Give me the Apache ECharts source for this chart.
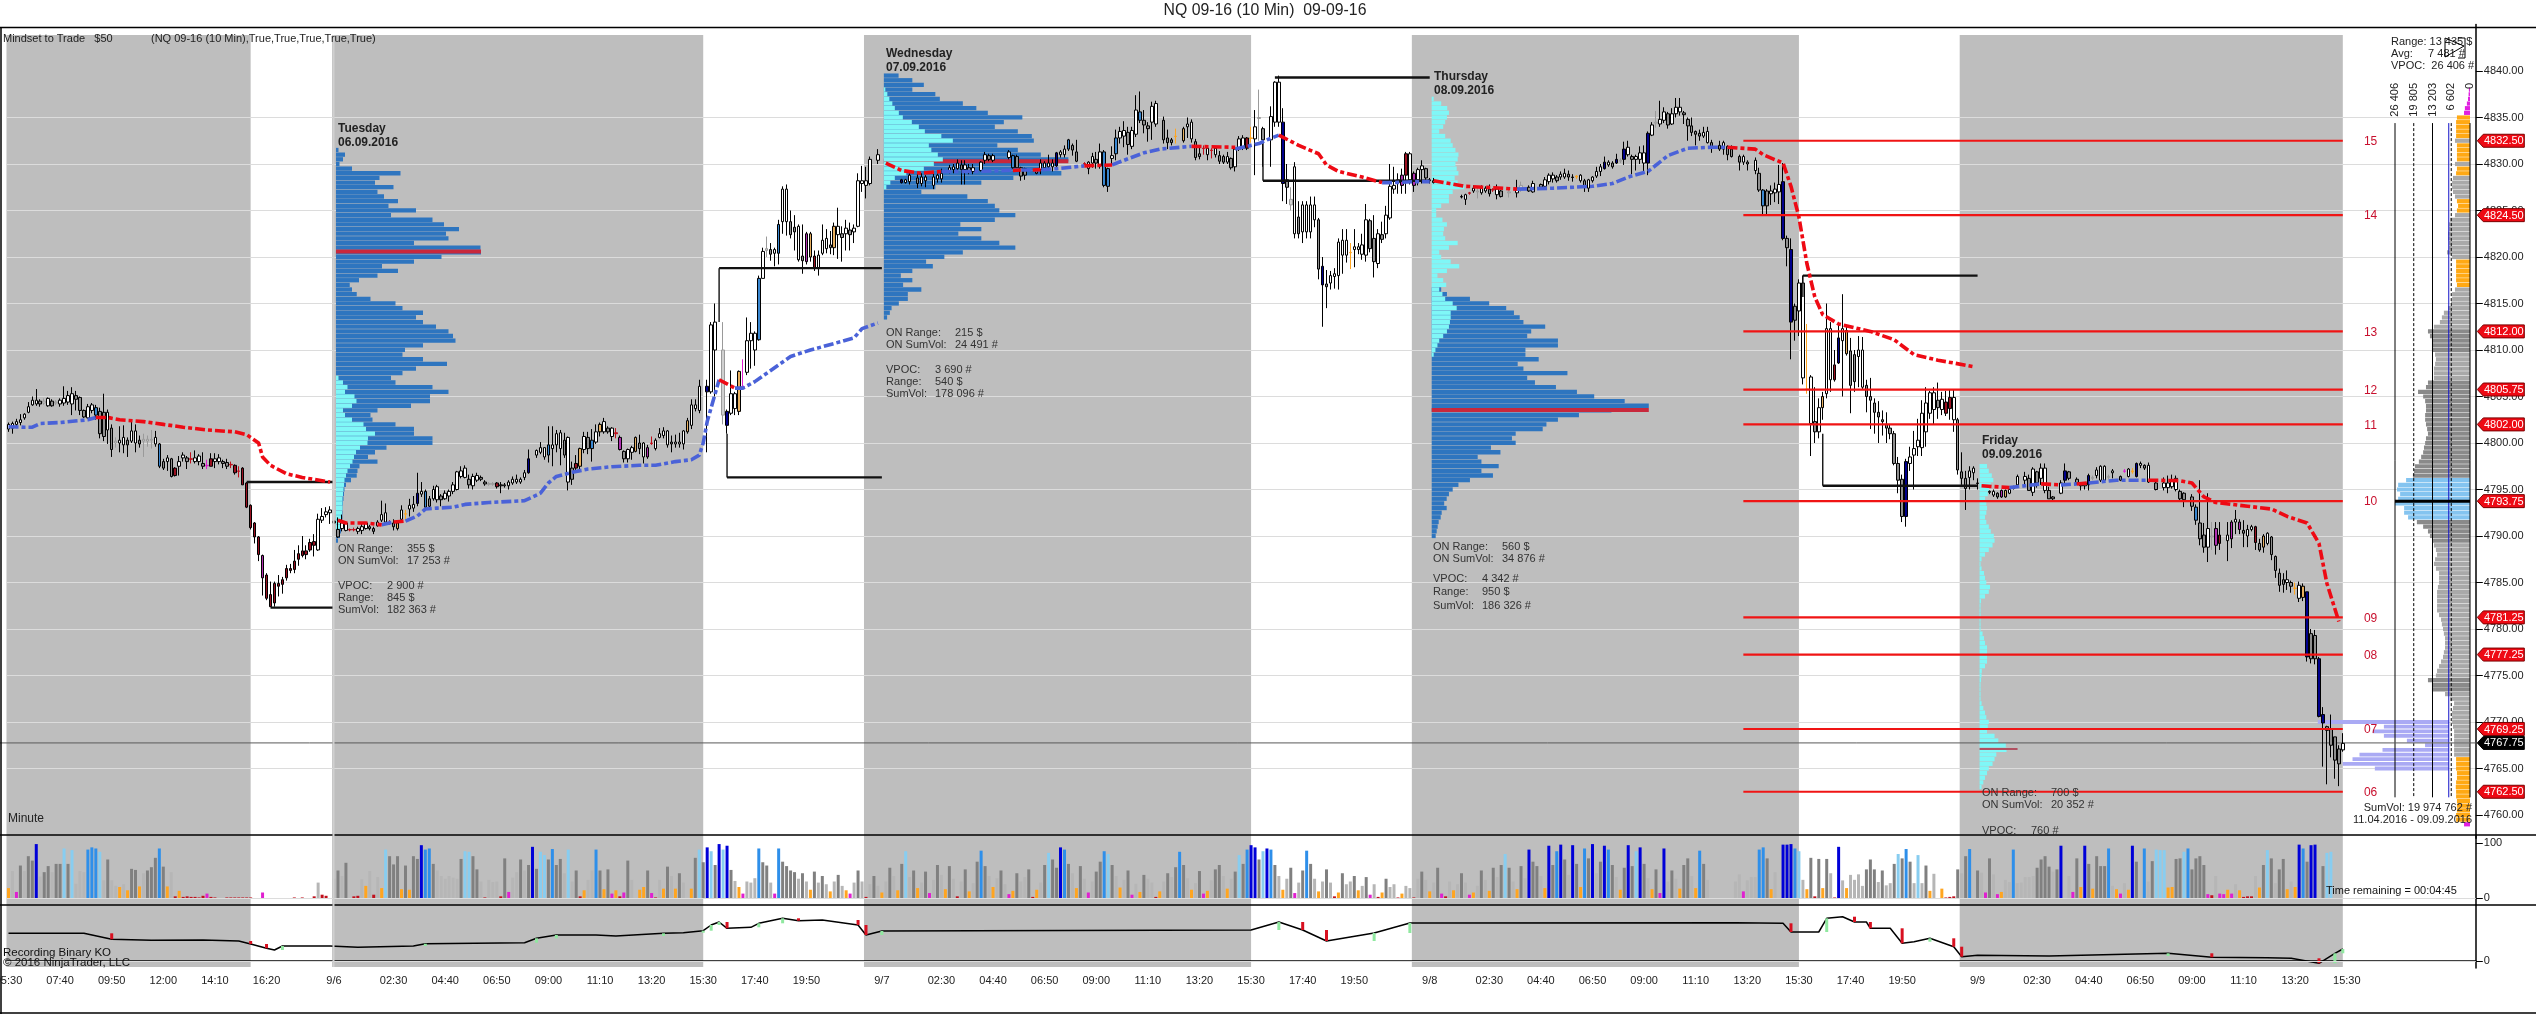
<!DOCTYPE html>
<html><head><meta charset="utf-8"><style>html,body{margin:0;padding:0;background:#fff}#c{width:2536px;height:1014px}</style>
<script src="https://cdn.jsdelivr.net/npm/echarts@6/dist/echarts.min.js"></script></head><body><div id="c"></div>
<script>
const priceBase=4700;
// candles: [bodyLow, bodyHigh, high, low, class?] relative to priceBase; null = no visible bar
const barsA=[[101.5,102,102.2,101.2],[101.6,102.1,102.3,101],[102,102.3,102.6,101.6],[102.2,102.5,103.1,101.9],[102.7,103.1,103.2,102.5],[103.3,103.9,104.4,103.2],[104.1,104.6,105,104],[104.2,104.6,105.8,104],[104.2,104.5,104.7,103.9],[104.3,104.5,104.8,104.1,'l'],[104,104.8,104.9,103.9],[104,104.5,104.7,103.9],[104.3,104.4,104.6,104.1,'l'],[104.2,104.6,104.8,103.9],[104.3,104.8,106.1,104],[104.4,105.1,105.6,104.1],[104.2,105.3,106,103],[104.7,105.1,105.6,103.5],[103.5,104.9,105,103],[102.8,103.5,103.6,102.7],[102.7,103.9,104.2,102.6],[103.5,104.1,104.3,103.2],[103,103.8,104.1,102.5,'b'],[101,103.4,103.8,100.5],[100.7,103.3,105.3,100.2],[101.4,103.3,103.6,99.9],[99.3,101.6,102,98.5],[100,100.2,100.6,99.5,'l'],[100,100.3,101.8,99],[99.8,100.6,101.9,98.9],[99.8,100.3,100.6,98.5],[100.2,101.3,102.4,100],[100,101.3,102,99],[99.9,100.3,100.8,99.5],[100.2,100.4,101,98.5,'l'],[100.2,100.4,100.8,99.6,'l'],[100.3,100.4,101.4,99.4,'l'],[99.9,100.6,101.3,99.6],[97.5,99.9,100,97.3,'b'],[97.3,98,98.3,97.1],[98,98.4,98.7,97],[96.4,98.3,98.4,96.3],[96.5,97.3,97.4,96.4,'r'],[97.5,98,98.6,96.5],[98.4,98.7,99,98],[98,98.4,98.6,97.2],[98.25,98.3,99,97.8,'r'],[98,98.4,99.2,97.8],[98,98.6,98.8,97.6],[97.5,97.8,99,97.2],[97.55,97.6,98.2,97.2,'m'],[97.5,98.3,98.9,97.5,'r'],[98,98.3,98.9,97.3],[98,98.4,98.8,97.7],[97.8,98,98.2,97.3],[97.5,97.9,98.3,97.2],[97.65,97.7,98,97.3,'r'],[96.8,97.6,97.7,96.6,'r'],[96.95,97,97.5,96.3,'r'],[95.5,97.3,97.4,95.5,'r'],[93.1,95.7,95.8,93,'r'],[90.9,93.3,93.4,90.7,'r'],[89.9,91.4,91.5,89.2,'r'],[88,89.9,90,87.3,'r'],[85.5,87.9,88,83.6,'m'],[83.3,85.8,86,83.1,'r'],[82.4,83.7,85.1,82.4,'r'],[82.8,84.9,85.1,82.4,'r'],[84.6,84.9,85.8,83.5,'r'],[84.8,85.3,85.6,83.8,'r'],[85.5,86.5,86.9,85.2,'r'],[86.3,86.5,87,86,'r'],[86.4,87.3,88.5,86,'r'],[87.5,88.1,89,86.8,'r'],[87.9,88.4,90,87.7,'r'],[88,88.4,89,87.5,'r'],[88.5,89.3,89.7,88.3,'r'],[89,89.4,90.2,87.8,'r'],[88.5,91.8,92.4,88.4],[91.7,92.1,93,91.4],[92.3,92.6,93.1,92],[92.5,92.8,93.2,91.3]];
const barsB=[[91.4,91.6,93.5,89.5],[89.9,90.7,92,89.8],[90.8,91.4,92.3,90.5],[90.6,91.4,91.5,90.5],[90.65,90.7,90.8,90.5,'r'],[90.65,90.7,90.9,90.5,'r'],[90.5,90.8,91,90.2],[90.6,91,91.4,90.2],[90.8,91.4,91.5,90.7],[90.8,91,91.2,90.6],[90.5,90.8,91,90.2],[91.1,91.5,91.7,91],[91.7,92.3,93.8,91.5],[91.5,92.5,93.5,91.3],[91.45,91.5,91.7,91.2,'r'],[91,91.4,91.8,90.6],[90.8,91.4,91.5,90.6,'o'],[91.8,92.8,93.3,91.6],[92.35,92.4,92.8,91.8,'o'],[92.9,93.3,94,92.1],[93,93.4,94.3,92.6],[93.5,94.6,96.8,93.2,'n'],[94.5,94.8,95.8,94.2],[93.1,94.8,95,92.9,'b'],[93.2,94,94.3,92.8],[94,95,95.4,93.8],[93.9,95.3,95.5,93.6],[93.9,94.3,94.5,93.2],[94,94.6,94.9,93.9],[94.3,94.8,95,93.7],[94.8,95.5,95.8,94.5],[95,96.9,97,94.9],[96.4,97,97.5,96.2],[96.3,97.3,97.6,96.2],[95.5,96.1,96.6,95.1],[95.4,96.4,96.7,95],[96,96.5,96.8,95.8],[96.1,96.3,96.5,95.9],[95.6,95.8,96,95.4],[95.55,95.65,95.8,95.4,'l'],[95.55,95.65,95.8,95.4,'l'],[95.3,95.7,95.8,95.1,'r'],[95.4,95.5,95.8,94.6],[95.4,95.5,95.7,95.2],[95.4,95.8,96,95],[95.7,96.1,96.4,95.5],[95.8,96.1,96.6,95.6],[95.8,96.1,96.3,95.6],[96.3,96.8,97.1,96],[96.8,98.3,99.3,96.7,'n'],null,[98.7,99.2,99.3,98.4],[99,99.5,100.1,98.8],[98.5,99.5,99.5,98.2],[98.7,99.8,101.8,97.9,'b'],[99.4,99.8,101.8,97.5],[99.8,101,101.4,99],[99.4,101.1,101.4,97.6],[98.7,100.3,101.1,98.4],[95.8,100.6,100.7,94.9],[96.1,97.3,98,95.5],[97.3,97.8,98.7,97,'r'],[97.5,99.4,99.5,97.2,'o'],[99.3,100.7,101.2,98.9],[99.4,100.6,101.2,98.8],[99.4,100.3,101.5,98,'b'],[100.1,101.2,102,99.9],[101.2,102,102.2,100.7,'o'],[101.2,102.3,102.7,101],[101.2,101.6,101.8,101],[100.7,101.6,101.7,100.2],[101,101.1,101.6,100.5,'r'],[99.3,100.6,100.8,99.2,'m'],[98.3,99.1,99.2,97.9],[98.3,99.3,99.4,97.9],[99,99.5,99.7,98.2],[99.1,100.6,100.7,99,'o'],[99.4,100,100.9,98.8],[98.5,100,100.1,97.8],[98.5,99.5,99.8,98.3,'m'],[99.95,100,100.7,99.8,'r'],[99.4,100.3,100.5,99.2],[100.6,101,101.6,100.5],[100.8,101.3,101.7,100.5],[99.8,101.3,101.4,99.5],[99.9,100.1,100.8,99],[99.9,100.1,100.9,99.5],[99.9,100.1,101.1,99.5],[99.9,101.3,101.4,99.3],[101.2,102.4,102.7,101,'o'],[101.9,104.1,104.7,101.5],[103.7,104.1,104.7,103.4],[103.5,106.1,106.8,103.2]];
const barsC=[[105.5,106.1,106.8,99,'n'],[105.5,112.7,113,105.3],[110,113,115,105]];
const barsD=[[103,110,113,102,'l'],[101.9,103.4,103.6,101,'n'],[103.2,105.3,107.8,103],[103.7,105.3,105.5,103],[103.4,107.7,107.8,103,'o'],[106,106.05,109,106,'m'],[107.6,111,113.5,107.3],[111,111.8,113,108],[110,111.8,112,108.3],[111.1,117.7,118,111,'b'],[117.7,120.6,121,117.7],[120.7,120.9,122.2,120,'l'],[120.3,120.8,121.5,119.6],[120.4,120.8,121,119],[120.4,123.5,124,119.2,'b'],[123.8,127.3,127.6,122.5],[123.8,127.3,127.8,122.3],[122.4,123.8,125,122],[122.7,123.2,124.5,120.7],[119.7,123.3,123.5,119.5],[119.6,120.1,123.5,118.2],[119.5,122.5,122.7,119.2,'m'],[120,122.5,122.7,119.5,'o'],[118.8,120.1,120.7,118.5,'r'],[118.8,120.2,120.7,118],[120.4,121.8,123.5,120.2],[120.9,122,123,120.4],[121,121.3,122.8,120.3],[121,123.3,123.7,120.2,'o'],[122.4,123.3,125.3,119.8],[122.1,122.5,123.3,119.5],[122.5,123.1,124,120.7],[122.4,122.9,123.7,120.7],[122.7,123.1,123.5,121.5],[123.3,128.2,129,123.2],[127.9,128.2,129.8,127],[127.7,128.2,129.7,126.3],[127.9,130.5,130.8,127.7],null,[130.4,131,131.6,130]];
const barsE=[[128,128.3,128.4,127.9,'n'],[128,128.3,128.4,127.9],[128.1,128.8,129,127.8],null,[127.9,128.5,129,127.4],[127.9,128.6,129,127.6],[128.2,128.6,128.8,127.5],null,[127.7,128.6,129,127.3],[128.4,128.8,129,128],[128.4,129,129.5,128],null,[129.2,129.6,129.9,129],[129.4,129.7,130,129],[129.5,130.1,130.5,129.2],[129.4,129.9,130.4,127.8],[129.4,129.9,130.4,127.8],[129.2,129.6,130,128.9],[129.2,129.6,130,128.9],null,[129.3,130.2,130.3,129.2],[130.4,131,131.3,130],[130.5,130.9,131.1,130.3],[130.4,130.9,131.1,130.2],null,null,null,[130.7,131.3,131.5,130.5],[129.6,130.9,131,129.5,'b'],[129.6,130.8,131,129.5],[128.7,129.6,129.7,128.2],[128.8,129.5,129.6,128.3],null,null,[129,129.3,129.4,128.9],[129.4,130.1,130.5,128.9],[129.6,130.1,130.3,129.4],[129.7,130.1,131,129.5],[129.7,130.1,130.5,129.2],[129.8,131.2,131.3,129.5,'n'],[131,131.3,131.5,130.7],[131,131.6,132,130.7],[131.6,132.6,132.7,131.4,'b'],[131.5,132,132.2,130.9],[130.3,131.3,132.6,130.2],null,[130,130.05,130.2,129.9,'r'],[129.5,130.2,130.3,128.9],[130.1,130.8,131.2,129.6],[130.1,130.5,131.3,129.5],[129.8,131.3,132.2,129.5],[127.7,131.3,131.5,127.5,'b'],[127.6,129.5,129.6,127,'b'],[130.6,130.9,131.9,130],[131.1,132.8,133.7,130.4,'b'],[132.8,133.5,134,132.2],[133,133.6,134.6,131.8],[132.1,133.4,134,131],[131.9,133.6,134,131.6],[133.2,135.8,137.4,132.9],[134.7,135.6,137.8,134.4,'b'],[134.2,134.7,135.8,133.3],[133.8,134.1,134.5,132.4],[134.5,136.2,136.7,132.6],[134.3,136.5,136.8,134],null,[132.6,134.7,135.1,132.2],[132.3,132.8,133.7,131.6],[132.3,132.6,132.8,132],[132.95,133,133.8,132.2,'o'],null,[132.5,133.8,134,132.3,'o'],[134,134.3,135,132.8],[132.7,134.5,134.8,132.3],[130.7,132.4,132.7,130.4],[130.8,131.1,131.9,130.5],[131.65,131.7,132,131,'r'],[131,131.7,132,130.4],[131.45,131.5,131.7,130.6,'r'],[131,131.7,131.9,130.7],[130.3,130.9,131.4,130],[130.2,130.8,131,130],[130.2,130.8,131.3,130],[129.6,130.6,130.7,129.4],[129.7,131.6,131.8,129.2],[131.6,132.7,133,131.4],[131.7,132.8,133.1,131.5],[131.7,132.8,132.9,131.5,'r'],[132.75,132.8,134,132.3,'o'],[132.7,134,135.8,128.8]];
const barsF=[[134.9,135,138,132.5,'l'],[132.6,133.8,134,129.7],null,[132.6,135.1,136.2,129.7],[134.5,138.8,138.9,134],[134.5,138.8,139.5,134],[127.9,134.5,136,126,'n'],[127.5,128.3,130,125.7],[125.6,126.2,127.5,125,'l'],[122.5,129.7,130.2,122],[122.5,124.3,126,122],[122.7,125.6,126,121.5],[122.7,125.6,126,122],[122.7,125.6,126.5,122],[124,125.6,126.5,123.2],[118.7,124,124.2,117.6],[117,119,120,112.5,'n'],[116.8,117.1,118.6,114.5],[117.2,118,118.5,116.5],[117.9,118.2,118.8,116.6],[118,121.6,122,116.5],[120.2,121.8,123,118.2],[120.2,121.8,123,119.4],[120.45,120.5,121.5,118.7,'o'],[120.8,121.1,123,118.9],[120.8,121.1,121.5,120.3],[120.3,121.3,122.5,119.7],[120.2,124,125.7,119.5],[120.9,123.9,124.1,120.5],[119.5,122,124.5,117.8],[119.3,122.5,123,118.8],[121.9,122.4,123.8,121.5],[122.5,124.5,125.5,122],[124.2,127.6,130,124],[127.3,127.7,129.7,126.8],[128,128.3,129,126.8],[127.7,128.8,129.5,126.8,'m'],[128.8,131.1,131.3,126.8,'r'],[128.3,131.1,131.3,127.8],[127.7,129,129.2,127,'m'],[128.3,129.4,129.6,127.7],[129.4,129.8,130.4,127.9],[128.5,129.5,129.6,128],[128.2,128.3,128.5,127.9]];
const barsG=[[126.45,126.5,126.7,126.3],[126.2,126.7,126.8,125.6],[126.85,126.9,127,126.7,'r'],[127.1,127.4,127.7,126.9],[127,127.1,127.6,126.3,'l'],[126.9,127.4,127.7,126.7],[127.1,127.4,127.6,126.9],[126.8,127.3,127.8,126.5],[127.2,127.25,127.4,127,'r'],[126.7,127.3,127.8,126.2],[126.5,127.1,127.2,126.4],null,[126.9,127,127.3,126.4,'l'],null,[126.9,127.4,128.3,126.4],[127.3,127.7,128.1,127,'l'],null,[127.1,127.5,127.7,127],[127,127.9,128.2,126.9],null,[127.5,127.8,127.9,127.3],[127.6,128.3,128.6,127.5],[128.1,128.8,129,127.8],[128.4,128.8,129.1,128],[128.2,128.6,128.8,128],[128.6,128.9,129.2,128.3],[128.6,129,129.5,128.4],[128.6,128.9,129.3,128.2],[128.55,128.6,128.9,128.1],[128.6,128.7,128.8,128.4,'o'],[128.2,128.8,128.9,128],[127.6,128.2,128.4,127],[127.4,128.3,128.4,127],[128.2,128.6,128.7,128],[128.7,129.2,129.7,128.5],[129.2,129.7,130,128.7],[129.5,130.2,130.8,129.4,'n'],[129.9,130.2,130.4,129.7],[129.7,130.1,130.3,129.5],[130.1,130.5,131.1,130,'n'],[130.3,130.4,130.6,130.1,'l'],[130.5,131.6,132.4,129.9,'n'],[131,131.8,132.5,130.8],[130.5,130.8,131,128.9],[130.5,130.8,131,129.3],[130.5,131.2,131.9,130],[130.1,131.2,132,129.1],[130.1,133.3,133.5,128.8,'n'],[133.1,134.2,134.5,133],[134.4,134.5,135.7,133.9,'l'],[134.3,134.8,136.8,134],[134.7,135.6,136.1,134.4],[134.2,135.4,135.6,133.8],[134.3,135.4,136,134.2],[135.4,136.1,137.1,135],[135.6,136.1,137.1,135.2],[135.3,135.5,135.7,134.3],[134.1,134.8,135,132.5],[133.4,134.1,135,133],[133.2,133.5,133.6,132],[133,133.3,133.7,132.5],[133,133.4,134,132.8],[132.3,133.5,134,132.2],[131.7,132.3,132.6,131.2],null,[131.6,132,132.5,131.4],[131.6,132.3,132.5,131],[131,131.9,132,130.4],[130.8,131.6,132,130.7],null,[130.2,130.8,131,129.3],[130.2,130.8,131,129.9],[130,130.2,130.4,129.3],null,[129.3,130.4,130.7,128.9],[127.2,129,129.6,127],[125.5,127.2,127.3,124.6,'b'],[125.5,127.1,127.3,124.6],[126.8,127.1,127.7,125.6],[126.9,127.3,128,125.9],[127,127.8,129.9,125.7],[122,128.1,130.1,121.8,'n'],[121,122,122.3,119],[113,120.8,122,109,'n'],[113.2,114.7,115,111],[114.2,117.2,117.6,111.5],[107,117.2,118,106.3],[105.75,105.8,112.8,105.3,'o'],[102.1,107.1,107.3,98.6],[101.2,102.3,106,100],[101.2,103.8,104.8,100.5],[103.8,105,105.5,102.5,'o'],[105.3,112.3,115,104.8],[106.8,112.3,113,105.5],[106.8,108.4,110,106.6,'r'],[108.6,111.3,113,108.5,'n'],[111,112.3,116,105],[109.6,112.1,112.5,109.4,'o'],[106.2,109.9,111.3,103.2],[106.6,109.5,110,105.5],[109.3,110,111.5,106],[106,110,111.4,105.7],[105,106.2,106.8,103.3],[104.6,105,107,101.5],[103.3,104.3,104.8,101],[102.8,103.3,104.5,100],[102.3,102.5,103.5,100.8],[101.6,102,103.3,100],[101,101.6,102,100.4],[97.8,101,101.3,97.6],[96,97.8,98.5,94.6],[92.1,96.1,96.6,91.5],[92.1,98,98.3,91,'n'],[97.8,98.5,99.6,97],[98.7,99.4,101.3,95],[99.6,100.3,102.6,98.6],[99.5,103.2,104.6,98.6],[101.2,104.3,106,99.6],[103.2,105.4,105.6,102.6],[103.6,105.4,106,102],[103.8,104.6,106.5,102.6],[103.6,104.7,105.5,103],[103.2,104.4,105.6,102.9,'r'],[103.7,104.9,105.7,102.5,'r'],[102.5,104.9,105.8,101.2],[97.1,102.5,102.7,96.6],[96.2,96.9,99,95.5],[95.1,96.2,97,92.8],[96.3,97,97.5,95],[96.8,97.3,97.5,96],[95.65,95.7,96.2,95]];
const barsH=[[94.7,94.8,94.9,94.5],[94.4,94.8,95,94.2],[94.2,94.6,94.7,94],[94.2,94.9,95,94.1,'m'],[94.2,94.9,95,94.1,'o'],[94.6,95,95.1,94.5],[95.1,95.2,95.4,95],[95.5,96.4,96.6,95.4],null,[96,96.4,96.9,95.3],[94.9,96.2,96.6,94.9],[94.7,97.2,97.4,94.3],[95.7,96.9,97,95.2],[96.2,97.3,97.8,95.5],[94.9,97.3,97.8,94.6],[94,94.9,95.3,94],[94,94.2,94.3,93.8],null,[94.6,95.7,96,94.5],[96,97,97.8,95.6,'n'],[96.2,96.9,97,96],null,[95.7,96.1,96.3,95.5],[95.4,95.7,95.8,94.9],[95.4,95.7,95.8,95],[95.5,96.5,96.7,94.9,'n'],[96.2,96.3,96.5,96,'l'],[96.5,97.1,97.4,96.2],[96,97.5,97.6,95.8],[96,97.5,97.6,95.9],[96.3,96.4,96.6,96.1,'l'],[96.8,97,97.2,96.2],null,[96,96.4,96.5,95.9],[96.95,97,97.2,96.8,'m'],[96.4,97.2,97.3,96.3],[96.9,97,97.3,96.7,'o'],[96.4,97.8,97.9,96.3,'n'],[97.6,97.8,98,97.3],[97.3,97.6,97.7,97.1],[95.8,97.6,97.9,95.7],null,[95,95.7,96,94.9],null,[95.2,95.7,96.3,94.9],[95.2,95.7,96.5,94.6],[95.3,96,96.6,95.1],[95,96.2,96.5,94.8],[94,94.8,95,93.8],[93.9,94.6,94.7,93.1],null,[93.2,94.2,94.5,92.7],[91.7,93.1,93.4,91.2,'b'],[89.7,91.4,96,89],[88.8,90.1,91.4,88.2],[88.8,90.8,94.6,87.2],[89.9,90,91.5,88.5,'l'],[89,90.8,91.5,88,'m'],[89.2,90.1,91.5,88.5,'r'],null,[89.5,90.1,91.5,87.3],[89.7,91.5,91.7,88.7,'m'],[91.5,91.8,92.8,90.2],[90.7,91.5,91.8,90.2,'m'],[90.3,90.6,91.7,88.8],[90,90.7,91.2,88.8],[90.7,91,91.2,90.5],[89.3,91,91.1,88.5,'r'],[88.5,89.2,89.7,88.3],[88.8,90,90.2,88.2,'o'],[89.2,90.3,90.4,89],[88,89.9,90,87.4],[86.3,87.8,87.9,85.5],[84.7,86,86.5,84],[84.8,85.3,86,83.9],[85,85.3,86.3,84.2],[84.6,85,85.2,83.9],[84.35,84.4,85,83.7,'o'],[83.3,84.7,85.1,82.9],[83.4,84.6,84.9,83,'o'],[77,84,84,76.5,'n'],[76.8,79.5,80,76.3],[76.8,79.3,79.9,76.2],[70.6,76.8,77,70.5,'n'],[69.9,70.8,71.6,65.2,'n'],[69.1,69.5,69.6,63.3],[67.5,69.3,70.8,66.2],[65.9,68.4,68.4,63.9],[65.5,67.1,67.5,63.1],[67,67.7,68.8,66.8]];
// volume rank pane: class letter + value
const volumeA="o18 l49 m11 g59 l49 g76 g68 n98 l39 g47 g58 l47 g62 g62 c90 g62 c87 l26 l49 l47 b88 b92 b90 c84 l32 g70 l32 l22 o20 l25 o14 g53 g51 o21 l45 g50 g56 g73 b90 g57 o21 l47 r3 o13 r2 r3 r2 r2 r1 r4 m8 r2 r1 r0 r0 r1 r1 r1 r1 r1 r1 r1 r0 r0 m10 r0 r0 r0 r0 r0 r0 r0 r1 r0 r1 r0 r0 r3 l28 r6 r4 r0 l35 g50 l40 g64 r0 r3 r4 l34 o22 l49 r6 l38 o18 c88 g76 g61 g76 o16 g59 o15 g76 g71 n96 b88 b90 g62 l50 l40 l35 l40 l37 l35 g71 c85 c84 g76 g52 l30 r1 l33 l29 l30 r3 g72 m11 l37 l47 g70 l50 g60 n93 g53 c84 c78 g70 b89 g60 g71 l45 c88 l30 g50 r3 o14 l33 l50 b88 g50 o16 g52 m8 o14 r3 m10 g68 l33 r0 o15 o20 g50 m9 r1 l33 o17 g57 l40 o17 g45 l28 r0 o17 g73 c88 g65 n92 c85 g60 n98 c88 n95 g51 l31 o20 m8 l30 l28 l36 b90 g65 g59 l28 m8 b90 g66 g58 g50 g47".split(" ");
const volumeB="l35 g45 l30 o15 g48 l28 g40 l25 o12 l30 g42 l22 o14 m8 l28 g50 l30 r2 l25 g40 l22 o10 l30 g55 l40 o14 g62 c85 l38 g50 o18 l28 g48 m9 l33 g60 l42 o16 g58 l35 r3 l30 g52 o12 l27 g66 b86 g58 l40 o20 l36 g50 l25 m7 o13 g45 l30 l38 g52 r2 o15 l28 g60 c82 g70 g55 n92 b88 g62 l45 o18 g58 l35 m10 l30 g48 g66 b85 c80 g60 l40 o19 l33 g50 m6 l26 o11 g42 l35 l28 r2 o12 l30 g45 l38 g56 b84 g60 l36 o15 l27 g49 m8 o13 l32 g52 g60 l40 o17 l35 g48 c78 g62 b88 n96 n92 g70 c85 n90 b88 g60 l40 o15 l35 g55 m9 l28 g50 b86 g62 l35 o12 l30 g52 l28 r3 o10 g45 l25 l30 g40 o14 l22 g38 m6 l25 r2 o10 g35 l20 l25 r1 o8 l22 l18 r1 l35 g48 l33 o12 l28 g55 m8 r3 l30 o14 l25 g45 l28 m6 o10 l22 g50 l33 o13 g55 l38 g60 c80 g55 l30 o16 g58 l36 n88 g66 g58 l40 o18 n95 g60 b85 n97 g70 l42 n96 g62 o20 b90 g72 n98 l45 g66 n95 b88 g60 l38 o15 g55 n96 g58 c85 n92 g62 l36 o16 g52 m9 n90 l30 g50 l35 o17 g60 g72 l40 o18 b86 g62 l33".split(" ");
const volumeC="l30 l43 m12 l32 l38 l38 b88 b92 g72 o16 l47 r0 n97 n97 n98 b90 c85 l33 o16 g73 r3 g71 o18 g71 l45 r1 n93 l32 o18 l42 l33 l43 l22 g52 g70 g52 l29 g50 l23 l27 g62 c80 g72 b89 g66 l27 c78 l27 g59 o13 l44 r0 o17 r1 r2 r3 g52 l45 g76 b89 r0 g50 l46 m10 g72 l43 m7 o11 l33 l29 b88 l27 l28 l38 l38 l40 g55 g70 g76 g57 l48 g52 n95 r0 l40 m11 g72 o20 n95 g62 o17 g76 g58 g58 b90 l22 o16 m8 l27 o15 n95 g66 r0 b90 l30 g67 c88 c87 c87 o19 o20 g71 g72 c84 b90 g52 g72 g76 g60 m7 r5 l40 m8 m7 o15 m8 l25 o14 r2 r3 r3 l40 o19 g60 c87 g72 l27 g52 g71 o16 l30 o20 n97 b90 g66 n96 n97 r0 g58 c82 c84".split(" ");
// Recording Binary KO pane [bar, value]
const binaryKO=[[0,27.7],[19,27.7],[26,21.7],[36,20.7],[49,21],[58,20],[61,17],[65,12.7],[67,11],[69,15],[81,15],[88,13.7],[102,15],[105,17.3],[130,18.3],[133,22.7],[138,26],[148,26],[153,25],[165,27.7],[170,28.3],[175,30.3],[177,36],[179,39],[181,32.7],[187,33.7],[189,37.7],[195,42.7],[199,40.3],[205,41],[214,36],[216,26],[220,30],[313,31],[320,39],[326,31],[332,20],[344,28],[353,38],[358,38],[435,38.3],[447,37.7],[449,29],[456,29],[458,42.7],[462,44.3],[465,39],[468,39],[469,32.7],[474,32.7],[477,17.7],[480,19.3],[484,22.7],[490,14.3],[492,4.3],[496,5.7],[514,5],[544,7.7],[555,3.7],[569,3.3],[575,2.7],[582,-2.3],[586,7.7],[588,12]];
// session-VWAP style line, red and blue pieces [bar, price-priceBase]
const vwapBlue=[[[0,101.75],[4,101.7],[6,101.7],[8,102.1],[13,102.2],[20,102.5],[22,102.75]],[[94,91.2],[97,91.5]],[[100,91.6],[103,92.15],[105,92.9],[108,93],[112,93.1],[115,93.4],[121,93.6],[130,93.8],[134,94.6],[136,95.7],[138,96.4],[142,96.85],[146,97.2],[152,97.45],[159,97.6],[163,97.6],[168,98],[172,98.2],[174,98.7],[175,100],[176,102.3],[178,105.3],[179,106.8]],[[183,105.9],[185,105.9],[188,106.6],[192,107.8],[197,109.3],[202,110],[208,110.7],[213,111.3],[215,112.3],[219,112.9]],[[235,129.2],[244,129.2],[254,129.35],[259,129.35],[264,129.5],[271,129.8]],[[278,129.9],[281,130.4],[286,131.2],[290,131.6],[298,131.9]],[[309,131.6],[315,132.2],[317,132.6],[320,133.1]],[[346,128],[349,128],[354,128.1],[358,128.1]],[[380,127.3],[389,127.4],[399,127.6],[404,127.9],[408,128.6],[413,129.2],[418,130.9],[423,131.7],[429,131.8],[433,131.8]],[[504,95.2],[508,95.4],[512,95.6]],[[517,95.5],[521,95.6]],[[524,95.7],[531,96],[539,96]]];
const vwapRed=[[[22,102.75],[25,102.75],[28,102.5],[34,102.3],[39,102],[44,101.7],[50,101.4],[57,101.2],[60,100.9],[63,100],[64,98.5],[66,97.6],[70,96.7],[74,96.3],[81,95.8]],[[83,91.7],[85,91.4],[90,91.4],[94,91.2]],[[97,91.5],[100,91.6]],[[179,106.8],[183,105.9]],[[221,130.1],[225,129.3],[230,129],[235,129.2]],[[253,129.3],[255,129.35]],[[258,129.35],[260,129.4]],[[271,129.8],[278,129.9]],[[298,131.9],[309,131.8]],[[320,133.1],[325,132],[330,131.1],[332,129.9],[335,129.2],[341,128.6],[346,128]],[[359,128.2],[363,127.9],[367,127.6],[374,127.45],[380,127.3]],[[433,131.8],[440,131.6],[442,131],[447,130.1],[449,127.6],[451,124.3],[453,119.3],[455,115.7],[457,113.8],[461,112.8],[469,112],[475,111.1],[480,109.5],[486,108.9],[490,108.6],[495,108.2]],[[497,95.4],[504,95.2]],[[512,95.6],[517,95.5]],[[521,95.6],[524,95.7]],[[539,96],[547,95.95],[550,95.7],[553,94.2],[556,93.6],[564,93.2],[570,92.9],[574,92.1],[579,91.4],[582,89.2],[584,84.9],[587,80.8]]];
// overnight range boxes [bar0, price0, bar1, price1]
const rangeSegments=[[60,95.8,82,95.8],[66,82.3,82,82.3],[179,118.8,220,118.8],[179,113,179,118.8],[181,96.3,220,96.3],[181,101,181,96.3],[319,139.3,358,139.3],[316,128.2,358,128.2],[316,132.6,316,128.2],[452,118,496,118],[452,115.7,452,118],[457,95.4,496,95.4],[457,101,457,95.4]];
// daily volume profiles (contracts per half point, first row at the top price)
const tueTop=131.5, tueTotal=[50,180,140,70,320,1290,870,780,1150,830,960,1240,1050,1600,1100,1930,2160,2460,2200,2250,1560,2890,2900,2110,1560,920,1240,830,460,275,320,415,690,1190,1330,1740,1600,1740,2000,2250,2340,2390,1740,1380,1330,1740,2220,1600,1330,1100,1190,1930,2250,1880,1880,1500,830,690,730,1190,1560,1560,1930,1930,1010,780,640,830,470,430,415,300,200,170,160,150,140,130,130,130,120,120,100,80,40];
const tueOnTop=107, tueOn=[50,140,230,180,370,410,320,140,180,320,550,600,780,640,630,480,400,360,330,280,230,200,170,160,150,140,130,130,130,120,120,100,80,40];
const wedTop=139.5, wedTotal=[295,570,800,570,1030,1120,1580,1850,2080,2770,2400,2220,2680,2960,3000,2270,2680,3140,3690,3460,3320,3550,2590,1950,1030,750,1670,2080,2220,2310,2630,2220,1530,1950,1490,1950,2310,2630,1580,1210,845,980,570,340,570,385,750,480,480,300,155,120,65];
const wedOnTop=138, wedOn=[30,70,110,170,220,300,380,560,700,820,1150,1380,900,950,1080,1180,1000,800,450,220,130,50];
const thuOnTop=137, thuOn=[40,190,310,345,305,270,230,150,270,380,420,475,535,520,475,500,535,460,520,650,420,345,345,190,90,90,215,305,245,230,270,520,345,150,190,380,550,305,115,230,290,150,215,270,420,500,380,380,365,345,305,230,150,115,75,40];
const thuTop=116.5, thuTotal=[190,305,765,1150,1490,1645,1760,1835,2270,1990,1910,2525,2525,1875,1875,2140,1720,1835,2715,1910,2065,2485,2905,3250,3860,4342,3595,2945,2525,2295,2220,1680,1605,1680,1185,1375,920,995,1340,995,1225,765,535,420,345,300,250,300,200,180,140,120,100,80];
const friOnTop=97.5, friOn=[150,185,245,275,225,185,165,110,135,150,135,110,135,185,225,285,300,260,185,110,40,20,40,90,110,135,210,185,110,30,20,20,20,20,20,20,60,90,110,150,150,150,150,110,45,40,30,20,20,20,20,40,75,110,135,185,165,150,300,375,525,540,335,300,260,185,150,110,75,40];
const vpocUnder=[[83,120.6,2900],[221,130.3,3690],[359,103.55,4342]], vpocOver=[[497,67.1,760]];
// whole-contract profile on the right, kilo-contracts per half point from 4838 downward
const compositeTop=138, compositeK=[.4,.5,.7,1.1,1.8,2.1,4.6,4.9,4.9,4.9,4.9,5.3,4.6,4.6,4.6,4.6,5.3,4.6,4.9,6,6.3,6.3,6,5.3,4.6,4.2,4.6,5.3,7,7.4,7.4,7.7,7.7,7.4,7.4,8.1,6.3,4.9,4.9,4.9,4.9,4.9,4.6,5.3,6.3,6.3,6.7,7.7,9.2,9.9,10.6,12.7,14.8,14.1,13.4,13.4,13.4,12.3,12,12.3,12.7,12.7,12.7,14.8,15.5,18.3,16.5,15.8,15.5,15.5,15.8,15.8,15.5,15.1,14.8,15.5,15.8,16.2,16.5,17.2,18,19.4,19.7,20.1,22.5,25.3,25.7,24.6,25.3,26.4,23.2,23.2,21.8,18.7,16.5,14.8,14.1,13,12.7,12,11.6,12.3,12.7,12,10.9,10.9,10.9,11.3,11.6,11.6,11.6,11.6,11.6,10.9,10.2,9.9,9.5,9.2,8.8,8.8,8.8,9.2,9.5,10.2,10.9,11.6,12,14.8,13.4,13.4,8.8,7,5.6,6,6.3,6.3,6.3,6,5.6,5.6,5.6,5.6,5.6,5.6,4.9,4.9,4.9,4.6,4.6,4.9,5,4.9,4.9,4.6,4.6,4.6,4.9,4.9,2.1];
const valueAreaHigh=96.25, valueAreaLow=91.75;
const compositeScale=[[26406,'26 406',0],[19805,'19 805',1],[13203,'13 203',0],[6602,'6 602',1],[0,'0',0]];
const compositeAvg=7481;
const todayTop=70, todayProfile=[939,465,545,465,300,170,475,640,690,760,530];
// key price levels
const levelPrices=[4832.5,4824.5,4812,4805.75,4802,4793.75,4781.25,4777.25,4769.25,4762.5];
const levelNames=['15','14','13','12','11','10','09','08','07','06'];
const levelStartBar=437, levelEndBar=588, levelLabelBar=595;
const lastPrice=4767.75, compositeVpoc=4793.75;
const sessionBands=[[0,60.5],[82,175],[216,313.3],[354,451.2],[492,588]];
const priceTicks=[4760,4765,4770,4775,4780,4785,4790,4795,4800,4805,4810,4815,4820,4825,4830,4835,4840];
const tickBars=[0,13,26,39,52,65,82,97,110,123,136,149,162,175,188,201,220,235,248,261,274,287,300,313,326,339,358,373,386,399,412,425,438,451,464,477,496,511,524,537,550,563,576,589];
const tickLabels=['05:30','07:40','09:50','12:00','14:10','16:20','9/6','02:30','04:40','06:50','09:00','11:10','13:20','15:30','17:40','19:50','9/7','02:30','04:40','06:50','09:00','11:10','13:20','15:30','17:40','19:50','9/8','02:30','04:40','06:50','09:00','11:10','13:20','15:30','17:40','19:50','9/9','02:30','04:40','06:50','09:00','11:10','13:20','15:30'];
const dateBars=[82,220,358,496], sessionTicks=[216,354,491];

const FONT='"Liberation Sans",Arial,sans-serif';
const categoryCount=622;
const categories=Array.from({length:categoryCount},(_,i)=>String(i));
const tickSet=new Set([...tickBars.filter(b=>!dateBars.includes(b)),...sessionTicks]);
const classColor={g:'#808080',l:'#b6b6b6',n:'#0000d8',b:'#2e8fea',c:'#88cdf0',o:'#ffa520',r:'#c0101c',m:'#e020d0'};
const bodyColor={n:'#00008c',b:'#3a87d0',c:'#88cdf0',o:'#e8b060',r:'#9a1020',m:'#b030b0',l:'#d0d0d0'};

// place candle chunks on the bar axis
const candleSlots=new Array(categoryCount).fill(null);
function place(start,list){list.forEach((b,k)=>{candleSlots[start+k]=b;});}
place(0,barsA);place(82,barsB);place(176,barsC);place(180,barsD);place(225,barsE);place(315,barsF);place(359,[[128,128.2,128.5,127.9]]);place(366,barsG);place(589-barsH.length,barsH);
let prevHi=null;
const candleData=candleSlots.map(b=>{
  if(!b) return {value:['-','-','-','-']};
  const up=prevHi===null||b[1]>=prevHi;prevHi=b[1];
  const cls=b[4];const thin=b[1]-b[0]<0.15;
  const fill=cls?bodyColor[cls]:(up?'#ffffff':'#8e8e8e');
  const edge=cls==='l'?'#9a9a9a':(cls&&thin?classColor[cls]:'#000');
  const lo=priceBase+b[0],hi=priceBase+b[1];
  return {value:up?[lo,hi,priceBase+b[3],priceBase+b[2]]:[hi,lo,priceBase+b[3],priceBase+b[2]],itemStyle:{color:fill,color0:fill,borderColor:edge,borderColor0:edge}};
});
// volume bars
const volumeSlots=new Array(categoryCount).fill(null);
[[0,volumeA],[199,volumeB],[435,volumeC]].forEach(([s,a])=>a.forEach((t,k)=>{if(s+k<589)volumeSlots[s+k]=t;}));
const volumeData=volumeSlots.map(t=>t?{value:+t.slice(1),itemStyle:{color:classColor[t[0]]}}:{value:'-'});

function rows(bar,top,list){return list.map((v,k)=>[bar,priceBase+top-k*0.5,v]);}
function profile(name,data,color,z){
  return {type:'custom',name,xAxisIndex:0,yAxisIndex:0,z,silent:true,clip:false,data,encode:{x:0,y:1},
    renderItem:(p,api)=>{const c=api.coord([api.value(0),api.value(1)]);
      return {type:'rect',shape:{x:c[0]-2,y:c[1]-2.2,width:api.value(2)/20,height:4.3},style:{fill:color}};}};
}
function vpoc(name,list,z,color){
  return {type:'custom',name,xAxisIndex:0,yAxisIndex:0,z,silent:true,clip:false,data:list.map(a=>[a[0],priceBase+a[1],a[2]]),encode:{x:0,y:1},
    renderItem:(p,api)=>{const c=api.coord([api.value(0),api.value(1)]);
      return {type:'rect',shape:{x:c[0]-2,y:c[1]-2,width:api.value(2)/20,height:4},style:{fill:color}};}};
}
const vwapSeries=[];
[[vwapBlue,'#4a62d8'],[vwapRed,'#ee0a14']].forEach(([segs,col])=>segs.forEach(seg=>vwapSeries.push({type:'line',xAxisIndex:0,yAxisIndex:0,z:6,silent:true,showSymbol:false,animation:false,data:seg.map(d=>[d[0],priceBase+d[1]]),lineStyle:{color:col,width:3.6,type:[10,3,4,3]}})));

// pixels per contract on composite profile
const compPx=75/26406;
function compRight(p){return p.coordSys.x+p.coordSys.width-5.8;}
const series=[
 {type:'custom',name:'sessions',xAxisIndex:0,yAxisIndex:0,z:-1,silent:true,clip:false,data:sessionBands,encode:{x:0},
  renderItem:(p,api)=>{const a=api.coord([api.value(0),4800]),b=api.coord([api.value(1),4800]);
    return {type:'rect',shape:{x:a[0]-2,y:35,width:b[0]-a[0]+2,height:932},style:{fill:'#bebebe'}};}},
 profile('tueTotal',rows(83,tueTop,tueTotal),'#2e75bf',1),
 profile('wedTotal',rows(221,wedTop,wedTotal),'#2e75bf',1),
 profile('thuTotal',rows(359,thuTop,thuTotal),'#2e75bf',1),
 vpoc('vpocUnder',vpocUnder,1,'#c8283c'),
 profile('tueOn',rows(83,tueOnTop,tueOn),'#7ff7f7',1),
 profile('wedOn',rows(221,wedOnTop,wedOn),'#7ff7f7',1),
 profile('thuOn',rows(359,thuOnTop,thuOn),'#7ff7f7',1),
 profile('friOn',rows(497,friOnTop,friOn),'#7ff7f7',1),
 {type:'custom',name:'vpocOver',xAxisIndex:0,yAxisIndex:0,z:1,silent:true,clip:false,data:vpocOver.map(a=>[a[0],priceBase+a[1],a[2]]),encode:{x:0,y:1},
  renderItem:(p,api)=>{const c=api.coord([api.value(0),api.value(1)]);return {type:'rect',shape:{x:c[0]-2,y:c[1]-1,width:api.value(2)/20,height:2},style:{fill:'#b05060'}};}},
 {type:'custom',name:'composite',xAxisIndex:0,yAxisIndex:0,z:1,silent:true,clip:false,data:compositeK.map((k,i)=>[0,priceBase+compositeTop-i*0.5,k*1000]),encode:{x:0,y:1},
  renderItem:(p,api)=>{const y=api.coord([0,api.value(1)])[1];const v=api.value(2);const w=v*compPx;const pr=api.value(1)-priceBase;
    let col=v<2200?'#e020e0':v<5100?'#ffa914':v>=13000?'#8a8a8a':'#a9a9a9';
    if(pr<=valueAreaHigh&&pr>=valueAreaLow)col='#84c4f0';
    return {type:'rect',shape:{x:compRight(p)-w,y:y-2.1,width:w,height:4.2},style:{fill:col}};}},
 {type:'custom',name:'today',xAxisIndex:0,yAxisIndex:0,z:1,silent:true,clip:false,data:todayProfile.map((v,i)=>[0,priceBase+todayTop-i*0.5,v]),encode:{x:0,y:1},
  renderItem:(p,api)=>{const y=api.coord([0,api.value(1)])[1];const w=api.value(2)/7.17;const r=compRight(p)-compositeAvg*compPx;
    return {type:'rect',shape:{x:r-w,y:y-1.9,width:w,height:3.8},style:{fill:'#aaaaf4'}};}},
 {type:'custom',name:'compositeLines',xAxisIndex:0,yAxisIndex:0,z:2,silent:true,clip:false,data:compositeScale.map(s=>[0,s[0],s[2]]),encode:{x:0},
  renderItem:(p,api)=>{const x=compRight(p)-api.value(1)*compPx;const t=api.coord([0,4834.4])[1],b=api.coord([0,4761.9])[1];
    return {type:'line',shape:{x1:x,y1:t,x2:x,y2:b},style:{stroke:'#000',lineWidth:1,lineDash:api.value(2)?[3,2]:null}};}},
 {type:'custom',name:'compositeAvg',xAxisIndex:0,yAxisIndex:0,z:2,silent:true,clip:false,data:[[0,compositeAvg]],encode:{x:0},
  renderItem:(p,api)=>{const x=compRight(p)-api.value(1)*compPx;const t=api.coord([0,4834.4])[1],b=api.coord([0,4761.9])[1];
    return {type:'line',shape:{x1:x,y1:t,x2:x,y2:b},style:{stroke:'#1010c8',lineWidth:1}};}},
 {type:'custom',name:'compositeVpoc',xAxisIndex:0,yAxisIndex:0,z:3,silent:true,clip:false,data:[[0,compositeVpoc]],encode:{x:0,y:1},
  renderItem:(p,api)=>{const y=api.coord([0,api.value(1)])[1];const r=compRight(p);
    return {type:'rect',shape:{x:r-75,y:y-1.5,width:75,height:3},style:{fill:'#000'}};}},
 {type:'custom',name:'lastPrice',xAxisIndex:0,yAxisIndex:0,z:2,silent:true,clip:false,data:[[0,lastPrice]],encode:{x:0,y:1},
  renderItem:(p,api)=>{const y=api.coord([0,api.value(1)])[1];
    return {type:'line',shape:{x1:0,y1:y,x2:p.coordSys.x+p.coordSys.width,y2:y},style:{stroke:'#5a5a5a',lineWidth:1}};}},
 {type:'candlestick',name:'NQ 09-16',xAxisIndex:0,yAxisIndex:0,z:4,barWidth:3,large:false,progressive:0,data:candleData,silent:true,itemStyle:{borderWidth:1}},
 ...vwapSeries,
 {type:'custom',name:'ranges',xAxisIndex:0,yAxisIndex:0,z:5,silent:true,clip:false,data:rangeSegments.map(s=>[s[0],priceBase+s[1],s[2],priceBase+s[3]]),encode:{x:0,y:1},
  renderItem:(p,api)=>{const a=api.coord([api.value(0),api.value(1)]),b=api.coord([api.value(2),api.value(3)]);
    return {type:'line',shape:{x1:a[0],y1:a[1],x2:b[0],y2:b[1]},style:{stroke:'#111',lineWidth:a[1]===b[1]?2.4:1.4}};}},
 {type:'custom',name:'levels',xAxisIndex:0,yAxisIndex:0,z:5,silent:true,clip:false,data:levelPrices.map((v,i)=>[levelStartBar,v,levelEndBar]),encode:{x:0,y:1},
  renderItem:(p,api)=>{const a=api.coord([api.value(0),api.value(1)]),b=api.coord([api.value(2),api.value(1)]),l=api.coord([levelLabelBar,api.value(1)]);
    return {type:'group',children:[{type:'line',shape:{x1:a[0],y1:a[1],x2:b[0],y2:b[1]},style:{stroke:'#f01414',lineWidth:2.2}},
      {type:'text',style:{x:l[0],y:l[1]+1,text:levelNames[p.dataIndex],fill:'#c8102e',font:'12px '+FONT,align:'center',verticalAlign:'middle'}}]};}},
 {type:'custom',name:'tags',xAxisIndex:0,yAxisIndex:0,z:8,silent:true,clip:false,data:levelPrices.map(v=>[0,v,0]).concat([[0,lastPrice,1]]),encode:{x:0,y:1},
  renderItem:(p,api)=>{const y=api.coord([0,api.value(1)])[1];const x=p.coordSys.x+p.coordSys.width+1.5;const dark=api.value(2);
    return {type:'group',children:[{type:'polygon',shape:{points:[[x,y],[x+6,y-6.5],[x+47,y-6.5],[x+47,y+6.5],[x+6,y+6.5]]},style:{fill:dark?'#000':'#ee0a14',stroke:dark?'#000':'#7a0000',lineWidth:1}},
      {type:'text',style:{x:x+26.5,y:y+.5,text:api.value(1).toFixed(2),fill:'#fff',font:'11px '+FONT,align:'center',verticalAlign:'middle'}}]};}},
 {type:'bar',name:'Minute',xAxisIndex:1,yAxisIndex:1,barWidth:3,silent:true,data:volumeData,z:3,
  markLine:{silent:true,symbol:'none',label:{show:false},animation:false,lineStyle:{color:'#dcdcdc',width:1.2,type:'solid'},data:[{yAxis:0}]}},
 {type:'line',name:'Recording Binary KO',xAxisIndex:2,yAxisIndex:2,silent:true,showSymbol:false,z:3,data:binaryKO,lineStyle:{color:'#000',width:1.5},
  markLine:{silent:true,symbol:'none',label:{show:false},animation:false,lineStyle:{color:'#dcdcdc',width:1.2,type:'solid'},data:[{yAxis:0}]}},
 {type:'custom',name:'koSteps',xAxisIndex:2,yAxisIndex:2,z:4,silent:true,clip:false,data:binaryKO.slice(1).map((d,i)=>[d[0],binaryKO[i][1],d[1]]),encode:{x:0},
  renderItem:(p,api)=>{const d=api.value(2)-api.value(1);if(Math.abs(d)<2)return null;
    const a=api.coord([api.value(0),api.value(1)]),b=api.coord([api.value(0),api.value(2)]);
    return {type:'rect',shape:{x:a[0]-1.5,y:Math.min(a[1],b[1]),width:3,height:Math.abs(a[1]-b[1])},style:{fill:d<0?'#d81020':'#90e8a0'}};}},
 {type:'custom',name:'timeLabels',xAxisIndex:2,yAxisIndex:2,z:4,silent:true,clip:false,data:tickBars.map(b=>[b,0]),encode:{x:0},
  renderItem:(p,api)=>{const x=api.coord([api.value(0),0])[0];
    return {type:'text',style:{x,y:981,text:tickLabels[p.dataIndex],fill:'#222',font:'11px '+FONT,align:'center',verticalAlign:'middle'}};}}
];

// layout: text and frame only
const gt=[];
function txt(x,y,text,o){gt.push(Object.assign({type:'text',z:20,silent:true,x,y,style:Object.assign({text,fill:'#222',font:'11px '+FONT,textVerticalAlign:'middle',verticalAlign:'middle'},o||{})}));}
function hline(x1,y1,x2,y2,w,c){gt.push({type:'line',z:10,silent:true,shape:{x1,y1,x2,y2},style:{stroke:c||'#000',lineWidth:w||1.5}});}
hline(0,27.5,2536,27.5);hline(0,835,2536,835);hline(0,905,2536,905);hline(0,1013,2536,1013);hline(1,27,1,1014);
hline(333.5,35,333.5,967,2,'#d0d0d0');
txt(3,39,'Mindset to Trade   $50');txt(151,39,'(NQ 09-16 (10 Min),True,True,True,True,True)');
[['Tuesday','06.09.2016',338,129],['Wednesday','07.09.2016',886,54],['Thursday','08.09.2016',1434,77],['Friday','09.09.2016',1982,441]].forEach(a=>{
  txt(a[2],a[3],a[0],{font:'bold 12px '+FONT});txt(a[2],a[3]+14,a[1],{font:'bold 12px '+FONT});});
function info(x,vx1,vx2,ys,vals){const names=['ON Range:','ON SumVol:','VPOC:','Range:','SumVol:'];
  names.forEach((n,i)=>{if(vals[i]===undefined)return;txt(x,ys[i],n,{fill:'#333'});txt(i<2?vx1:vx2,ys[i],vals[i],{fill:'#333'});});}
info(338,407,387,[549,561,586,598,610],['355 $','17 253 #','2 900 #','845 $','182 363 #']);
info(886,955,935,[333,345,370,382,394],['215 $','24 491 #','3 690 #','540 $','178 096 #']);
info(1433,1502,1482,[547,559,579,592,606],['560 $','34 876 #','4 342 #','950 $','186 326 #']);
info(1982,2051,2031,[793,805,831],['700 $','20 352 #','760 #']);
txt(8,819,'Minute',{font:'12px '+FONT});
txt(3,953,'Recording Binary KO',{font:'11.5px '+FONT,fill:'#111'});txt(3,963,'© 2016 NinjaTrader, LLC',{font:'11.5px '+FONT,fill:'#111'});
txt(2326,891,'Time remaining = 00:04:45',{font:'11px '+FONT,fill:'#111'});
txt(2472,808,'SumVol: 19 974 762 #',{align:'right',textAlign:'right',font:'11px '+FONT});
txt(2472,820,'11.04.2016 - 09.09.2016',{align:'right',textAlign:'right',font:'11px '+FONT});
txt(2391,42,'Range: 13 435 $',{font:'11px '+FONT});txt(2391,54,'Avg:     7 481 #',{font:'11px '+FONT});txt(2391,66,'VPOC:  26 406 #',{font:'11px '+FONT});
compositeScale.forEach(s=>{const x=2470-s[0]*compPx;gt.push({type:'text',z:20,silent:true,x,y:83,rotation:Math.PI/2,style:{text:s[1],fill:'#222',font:'11px '+FONT,align:'right',verticalAlign:'middle'}});});
gt.push({type:'polyline',z:20,silent:true,shape:{points:[[2445,38],[2445,57],[2464,46],[2445,38]]},style:{stroke:'#000',fill:'none',lineWidth:1}});
gt.push({type:'polyline',z:20,silent:true,shape:{points:[[2458,38],[2465,38],[2465,58],[2458,58]]},style:{stroke:'#000',fill:'none',lineWidth:1}});

const gridL=6.5,gridW=2469.3;
const chart=echarts.init(document.getElementById('c'),null,{renderer:'canvas',width:2536,height:1014});
const yLabel={fontFamily:FONT,fontSize:11,color:'#222',margin:8};
chart.setOption({animation:false,backgroundColor:'#fff',textStyle:{fontFamily:FONT},
 title:{text:'NQ 09-16 (10 Min)  09-09-16',left:1265,top:0,padding:[3,0,0,0],textAlign:'center',textStyle:{fontFamily:FONT,fontSize:15.8,fontWeight:'normal',color:'#222'}},
 grid:[{left:gridL,width:gridW,top:24.5,height:813.75},{left:gridL,width:gridW,top:835,height:70},{left:gridL,width:gridW,top:905,height:63}],
 xAxis:[
  {type:'category',gridIndex:0,data:categories,show:false,boundaryGap:true},
  {type:'category',gridIndex:1,data:categories,show:false,boundaryGap:true},
  {type:'category',gridIndex:2,data:categories,boundaryGap:true,axisLine:{lineStyle:{color:'#000',width:1.5}},
   axisTick:{alignWithLabel:true,length:7,lineStyle:{color:'#000'},interval:(i)=>tickSet.has(i)},
   axisLabel:{show:false},splitLine:{show:false}}],
 yAxis:[
  {type:'value',gridIndex:0,position:'right',min:4757.5,max:4845,interval:2.5,scale:true,axisLine:{show:true,lineStyle:{color:'#000',width:1.5}},
   axisTick:{show:true,length:7,customValues:priceTicks,lineStyle:{color:'#000'}},
   axisLabel:Object.assign({customValues:priceTicks,formatter:v=>v.toFixed(2)},yLabel),
   splitLine:{show:true,showMinLine:false,showMaxLine:false,lineStyle:{color:'#dcdcdc',width:1.2}}},
  {type:'value',gridIndex:1,position:'right',min:-12.73,max:114.5,axisLine:{show:true,lineStyle:{color:'#000',width:1.5}},
   axisTick:{show:true,length:7,customValues:[0,100],lineStyle:{color:'#000'}},axisLabel:Object.assign({customValues:[0,100]},yLabel),splitLine:{show:false}},
  {type:'value',gridIndex:2,position:'right',min:-7,max:56,axisLine:{show:true,lineStyle:{color:'#000',width:1.5}},
   axisTick:{show:true,length:7,customValues:[0],lineStyle:{color:'#000'}},axisLabel:Object.assign({customValues:[0]},yLabel),splitLine:{show:false}}],
 graphic:{elements:gt},
 series});
</script></body></html>
